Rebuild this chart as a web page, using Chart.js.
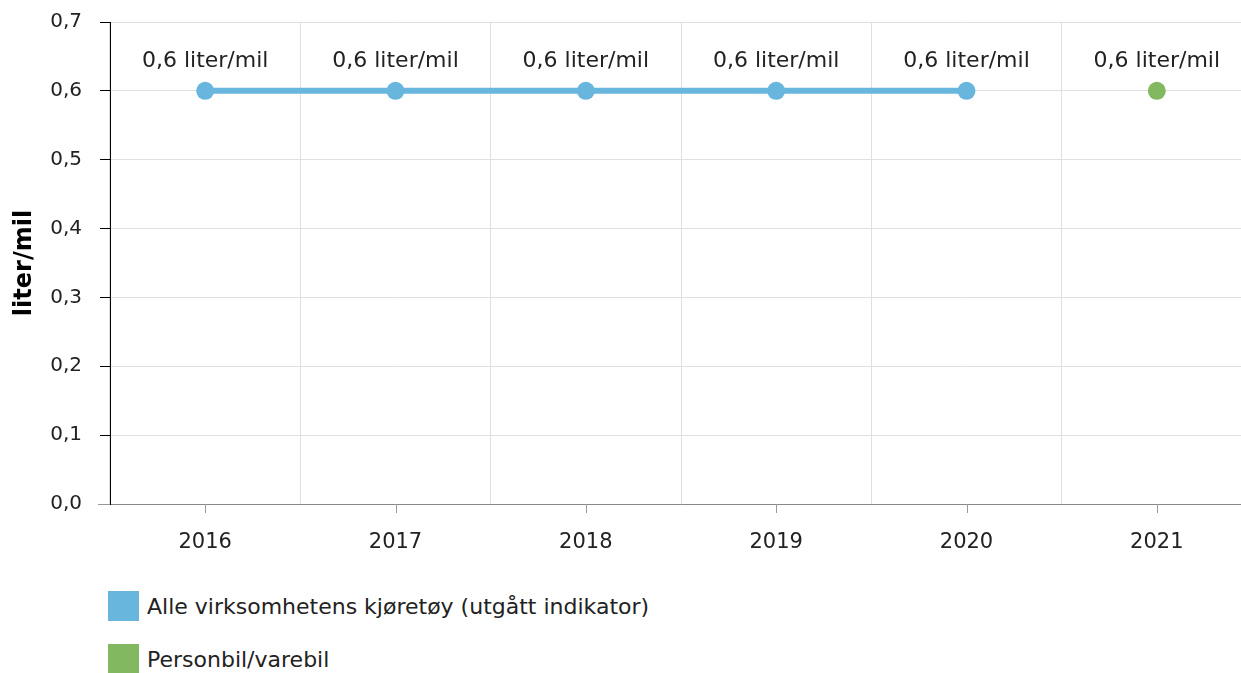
<!DOCTYPE html>
<html>
<head>
<meta charset="utf-8">
<script src="https://cdn.jsdelivr.net/npm/chart.js@4.4.1/dist/chart.umd.min.js"></script>
<style>
  body { margin: 0; background: #fff; font-family: "DejaVu Sans", Verdana, sans-serif; }
  #wrap { position: relative; width: 1241px; height: 673px; overflow: hidden; }
  #chart { position: absolute; left: 0; top: 0; }
  .leg { position: absolute; left: 108px; height: 30px; display: flex; align-items: center; font-size: 22px; color: #222; white-space: nowrap; }
  .leg span.box { display: inline-block; width: 31px; height: 30px; margin-right: 8px; flex: none; }
</style>
</head>
<body>
<div id="wrap">
  <canvas id="chart" width="1252" height="575"></canvas>
  <div class="leg" style="top:591px"><span class="box" style="background:#68b6de"></span>Alle virksomhetens kjøretøy (utgått indikator)</div>
  <div class="leg" style="top:644px"><span class="box" style="background:#82b960"></span>Personbil/varebil</div>
</div>
<script>
const years = ["2016", "2017", "2018", "2019", "2020", "2021"];
const alleKjoretoy = [0.6, 0.6, 0.6, 0.6, 0.6, null];
const personbil = [null, null, null, null, null, 0.6];
const unit = "liter/mil";

const blue = "#68b6de";
const green = "#82b960";
const textColor = "#222";
const font = "DejaVu Sans";

function fmt(v){
    return v.toFixed(1).replace(".", ",");
}

// labels above every point
const valueLabels = {
    id: "valueLabels",
    afterDatasetsDraw(chart){
        const ctx = chart.ctx;
        ctx.save();
        ctx.font = "22px '" + font + "'";
        ctx.fillStyle = textColor;
        ctx.textAlign = "center";
        ctx.textBaseline = "middle";
        chart.data.datasets.forEach(function(ds, i){
            const meta = chart.getDatasetMeta(i);
            meta.data.forEach(function(pt, j){
                const v = ds.data[j];
                if(v === null) return;
                ctx.fillText(fmt(v) + " " + unit, pt.x, pt.y - 30);
            });
        });
        ctx.restore();
    }
};

// x tick marks at category centres + axis stub to the left
const xTicks = {
    id: "xTicks",
    afterDraw(chart){
        const ctx = chart.ctx;
        const xs = chart.scales.x;
        const bottom = chart.chartArea.bottom;
        ctx.save();
        ctx.strokeStyle = "#999";
        ctx.lineWidth = 1;
        ctx.beginPath();
        xs.ticks.forEach(function(t, i){
            const x = Math.round(xs.getPixelForTick(i)) + 0.5;
            ctx.moveTo(x, bottom);
            ctx.lineTo(x, bottom + 9);
        });
        ctx.moveTo(98, bottom + 0.5);
        ctx.lineTo(chart.chartArea.left, bottom + 0.5);
        ctx.stroke();
        ctx.restore();
    }
};

new Chart(document.getElementById("chart"), {
    type: "line",
    data: {
        labels: years,
        datasets: [{
            label: "Alle virksomhetens kjøretøy (utgått indikator)",
            data: alleKjoretoy,
            borderColor: blue,
            backgroundColor: blue,
            borderWidth: 6,
            pointRadius: 9,
            pointHoverRadius: 9,
            pointBorderWidth: 0,
            spanGaps: false
        }, {
            label: "Personbil/varebil",
            data: personbil,
            borderColor: green,
            backgroundColor: green,
            borderWidth: 6,
            pointRadius: 9,
            pointHoverRadius: 9,
            pointBorderWidth: 0
        }]
    },
    options: {
        responsive: false,
        animation: false,
        layout: { autoPadding: false, padding: { top: 22, left: 0, right: 0, bottom: 0 } },
        plugins: {
            legend: { display: false },
            tooltip: { enabled: false }
        },
        scales: {
            x: {
                offset: true,
                grid: { offset: true, color: "#e0e0e0", drawTicks: false },
                border: { color: "#888" },
                ticks: { color: textColor, padding: 26, font: { family: font, size: 21 } },
                afterFit(scale){ scale.height = 71; scale.paddingRight = 0; }
            },
            y: {
                min: 0,
                max: 0.7,
                ticks: {
                    stepSize: 0.1,
                    color: textColor,
                    padding: 18,
                    font: { family: font, size: 20 },
                    callback: function(v){ return fmt(v); }
                },
                grid: { color: "#e0e0e0", tickColor: "#000", tickLength: 10 },
                border: { color: "#000" },
                title: {
                    display: true,
                    text: unit,
                    color: "#000",
                    padding: { top: 10, bottom: 0 },
                    font: { family: font, size: 24, weight: "bold" }
                },
                afterFit(scale){ scale.width = 110; scale.paddingTop = 0; scale.paddingBottom = 0; }
            }
        }
    },
    plugins: [valueLabels, xTicks]
});
</script>
</body>
</html>
